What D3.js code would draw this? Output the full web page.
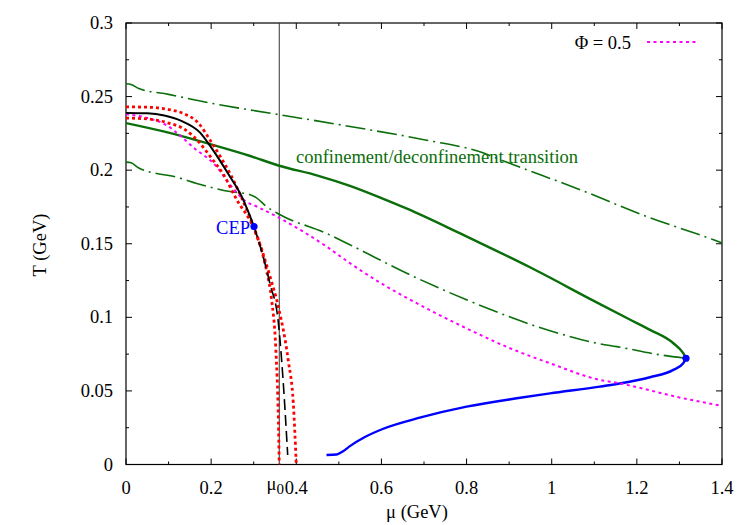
<!DOCTYPE html>
<html><head><meta charset="utf-8">
<script src="https://cdn.jsdelivr.net/npm/d3@7"></script>
<style>
body{margin:0;background:#fff;}
</style></head>
<body><svg id="c" width="750" height="525" font-family="'Liberation Serif','DejaVu Serif','Times New Roman',serif"></svg>
<script>
// ---- data (mu in GeV, T in GeV) ----
const xTicks = [0, 0.2, 0.4, 0.6, 0.8, 1, 1.2, 1.4];
const xTickLabels = ["0", "0.2", "0.4", "0.6", "0.8", "1", "1.2", "1.4"];
const yTicks = [0, 0.05, 0.1, 0.15, 0.2, 0.25, 0.3];
const yTickLabels = ["0", "0.05", "0.1", "0.15", "0.2", "0.25", "0.3"];
const mu0 = 0.36;

const crossoverSolid = [[0,0.2388],[0.05,0.2386],[0.09,0.2372],[0.13,0.2335],[0.174,0.2255],[0.2,0.2155],[0.244,0.1957],[0.272,0.182],[0.3007,0.1617]];
const firstOrderDashed = [[0.3007,0.1617],[0.321,0.1425],[0.338,0.123],[0.358,0.096],[0.3695,0.0552],[0.3798,0.0065]];
const redOuter = [[0,0.243],[0.05,0.2428],[0.1,0.2412],[0.135,0.2385],[0.17,0.232],[0.197,0.2207],[0.222,0.209],[0.248,0.1957],[0.275,0.179],[0.3,0.1615],[0.32,0.145],[0.338,0.128],[0.358,0.107],[0.381,0.071],[0.393,0.0416],[0.4,0]];
const redInner = [[0,0.2354],[0.05,0.2348],[0.1,0.232],[0.135,0.2282],[0.17,0.2195],[0.2,0.2085],[0.23,0.1965],[0.26,0.18],[0.3,0.1605],[0.32,0.144],[0.33,0.132],[0.342,0.112],[0.352,0.078],[0.358,0.03],[0.36,0]];
const phiHalf = [[0,0.238],[0.05,0.2355],[0.0956,0.2305],[0.127,0.2235],[0.16,0.215],[0.205,0.2048],[0.252,0.1875],[0.28,0.179],[0.307,0.1753],[0.354,0.1685],[0.4714,0.148],[0.526,0.1368],[0.6,0.123],[0.69,0.1085],[0.8,0.0925],[0.902,0.079],[0.996,0.0688],[1.113,0.0575],[1.1527,0.0555],[1.309,0.045],[1.4,0.0398]];
const deconfSolid = [[0,0.232],[0.1,0.2255],[0.2,0.2175],[0.29,0.2098],[0.36,0.203],[0.45,0.1963],[0.526,0.1893],[0.6,0.181],[0.66,0.1738],[0.785,0.157],[0.83,0.1508],[0.949,0.134],[1.1,0.111],[1.18,0.099],[1.231,0.0915],[1.2857,0.0824],[1.309,0.0756],[1.3155,0.0722]];
const deconfUpper = [[0,0.2587],[0.012,0.2582],[0.03,0.2555],[0.1,0.2515],[0.2,0.2455],[0.3,0.2405],[0.36,0.2377],[0.526,0.2297],[0.7,0.2207],[0.84,0.2116],[0.88,0.207],[1.067,0.1867],[1.223,0.1685],[1.38,0.1527],[1.4,0.1505]];
const deconfLower = [[0,0.2055],[0.012,0.205],[0.03,0.2015],[0.127,0.1946],[0.166,0.191],[0.244,0.1855],[0.29,0.1835],[0.305,0.1815],[0.33,0.1753],[0.362,0.1697],[0.471,0.157],[0.526,0.1493],[0.667,0.1289],[0.8,0.1119],[0.996,0.0909],[1.113,0.082],[1.1527,0.0801],[1.2544,0.0745],[1.3155,0.0722]];
const chiralHigh = [[0.471,0.0065],[0.495,0.0068],[0.51,0.009],[0.526,0.0125],[0.56,0.0185],[0.6044,0.0243],[0.69,0.0318],[0.8,0.0393],[0.918,0.045],[0.996,0.0483],[1.113,0.0529],[1.1527,0.0547],[1.231,0.0593],[1.2857,0.0643],[1.309,0.0688],[1.3155,0.0722]];
const endPoints = [[0.3007,0.1617],[1.3155,0.0722]];

// ---- layout ----
const svg = d3.select("#c");
const L = 126, R = 722, T = 23, B = 464.5;
const x = d3.scaleLinear().domain([0,1.4]).range([L,R]);
const y = d3.scaleLinear().domain([0,0.3]).range([B,T]);
const FS = 18.5;

svg.append("rect").attr("x",L).attr("y",T).attr("width",R-L).attr("height",B-T)
  .attr("fill","none").attr("stroke","#000").attr("stroke-width",1.2);

const xMinor = d3.range(0,1.41,0.1);
const yMinor = d3.range(0,0.301,0.025);
const tickG = svg.append("g").attr("stroke","#000").attr("stroke-width",1);
xMinor.forEach((v,i)=>{
  const len = (i%2===0)?6:3;
  tickG.append("line").attr("x1",x(v)).attr("x2",x(v)).attr("y1",B).attr("y2",B-len);
  tickG.append("line").attr("x1",x(v)).attr("x2",x(v)).attr("y1",T).attr("y2",T+len);
});
yMinor.forEach((v,i)=>{
  const len = (i%2===0)?6:3;
  tickG.append("line").attr("y1",y(v)).attr("y2",y(v)).attr("x1",L).attr("x2",L+len);
  tickG.append("line").attr("y1",y(v)).attr("y2",y(v)).attr("x1",R).attr("x2",R-len);
});

xTicks.forEach((v,i)=>{
  svg.append("text").attr("x",x(v)).attr("y",B+29).attr("text-anchor","middle")
    .attr("font-size",FS).text(xTickLabels[i]);
});
const mt = svg.append("text").attr("x",x(mu0)-4).attr("y",B+25).attr("text-anchor","middle").attr("font-size",FS);
mt.append("tspan").text("μ");
mt.append("tspan").attr("dy",4).attr("font-size",15).text("0");
yTicks.forEach((v,i)=>{
  svg.append("text").attr("x",113).attr("y",y(v)+6).attr("text-anchor","end")
    .attr("font-size",FS).text(yTickLabels[i]);
});

svg.append("text").attr("x",417).attr("y",518).attr("text-anchor","middle").attr("font-size",FS).text("μ (GeV)");
svg.append("text").attr("transform","translate(46,245) rotate(-90)").attr("text-anchor","middle").attr("font-size",FS).text("T (GeV)");

svg.append("line").attr("x1",x(mu0)).attr("x2",x(mu0)).attr("y1",T).attr("y2",B)
  .attr("stroke","#333").attr("stroke-width",1);

svg.append("clipPath").attr("id","pc").append("rect").attr("x",L).attr("y",T).attr("width",R-L).attr("height",B-T);
const plot = svg.append("g").attr("clip-path","url(#pc)");
const line = d3.line().x(d=>x(d[0])).y(d=>y(d[1])).curve(d3.curveMonotoneX);

function draw(data, color, width, dash){
  plot.append("path").datum(data).attr("d",line).attr("fill","none")
    .attr("stroke",color).attr("stroke-width",width)
    .attr("stroke-dasharray",dash||null).attr("stroke-linejoin","round");
}
const green = "#0a6e0a";
draw(deconfUpper, green, 1.6, "20,5,2,5");
draw(deconfLower, green, 1.6, "20,5,2,5");
draw(deconfSolid, green, 2.4);
draw(chiralHigh, "#0000ff", 2.4);
draw(phiHalf, "#ff00ff", 2, "3,3.5");
draw(redOuter, "#ff0000", 2.8, "3,3");
draw(redInner, "#ff0000", 2.8, "3,3");
draw(crossoverSolid, "#000", 2);
draw(firstOrderDashed, "#000", 1.6, "11,5");

plot.selectAll("circle.ep").data(endPoints).enter().append("circle")
  .attr("cx",d=>x(d[0])).attr("cy",d=>y(d[1])).attr("r",3.6).attr("fill","#0000ff");

svg.append("text").attr("x",250).attr("y",234).attr("text-anchor","end").attr("font-size",FS)
  .attr("fill","#0000ff").text("CEP");
svg.append("text").attr("x",296).attr("y",163).attr("font-size",FS).attr("fill",green)
  .text("confinement/deconfinement transition");

svg.append("text").attr("x",631).attr("y",49).attr("text-anchor","end").attr("font-size",FS).text("Φ = 0.5");
svg.append("line").attr("x1",647).attr("x2",698).attr("y1",42).attr("y2",42)
  .attr("stroke","#ff00ff").attr("stroke-width",2).attr("stroke-dasharray","3,3.5");
</script></body></html>
